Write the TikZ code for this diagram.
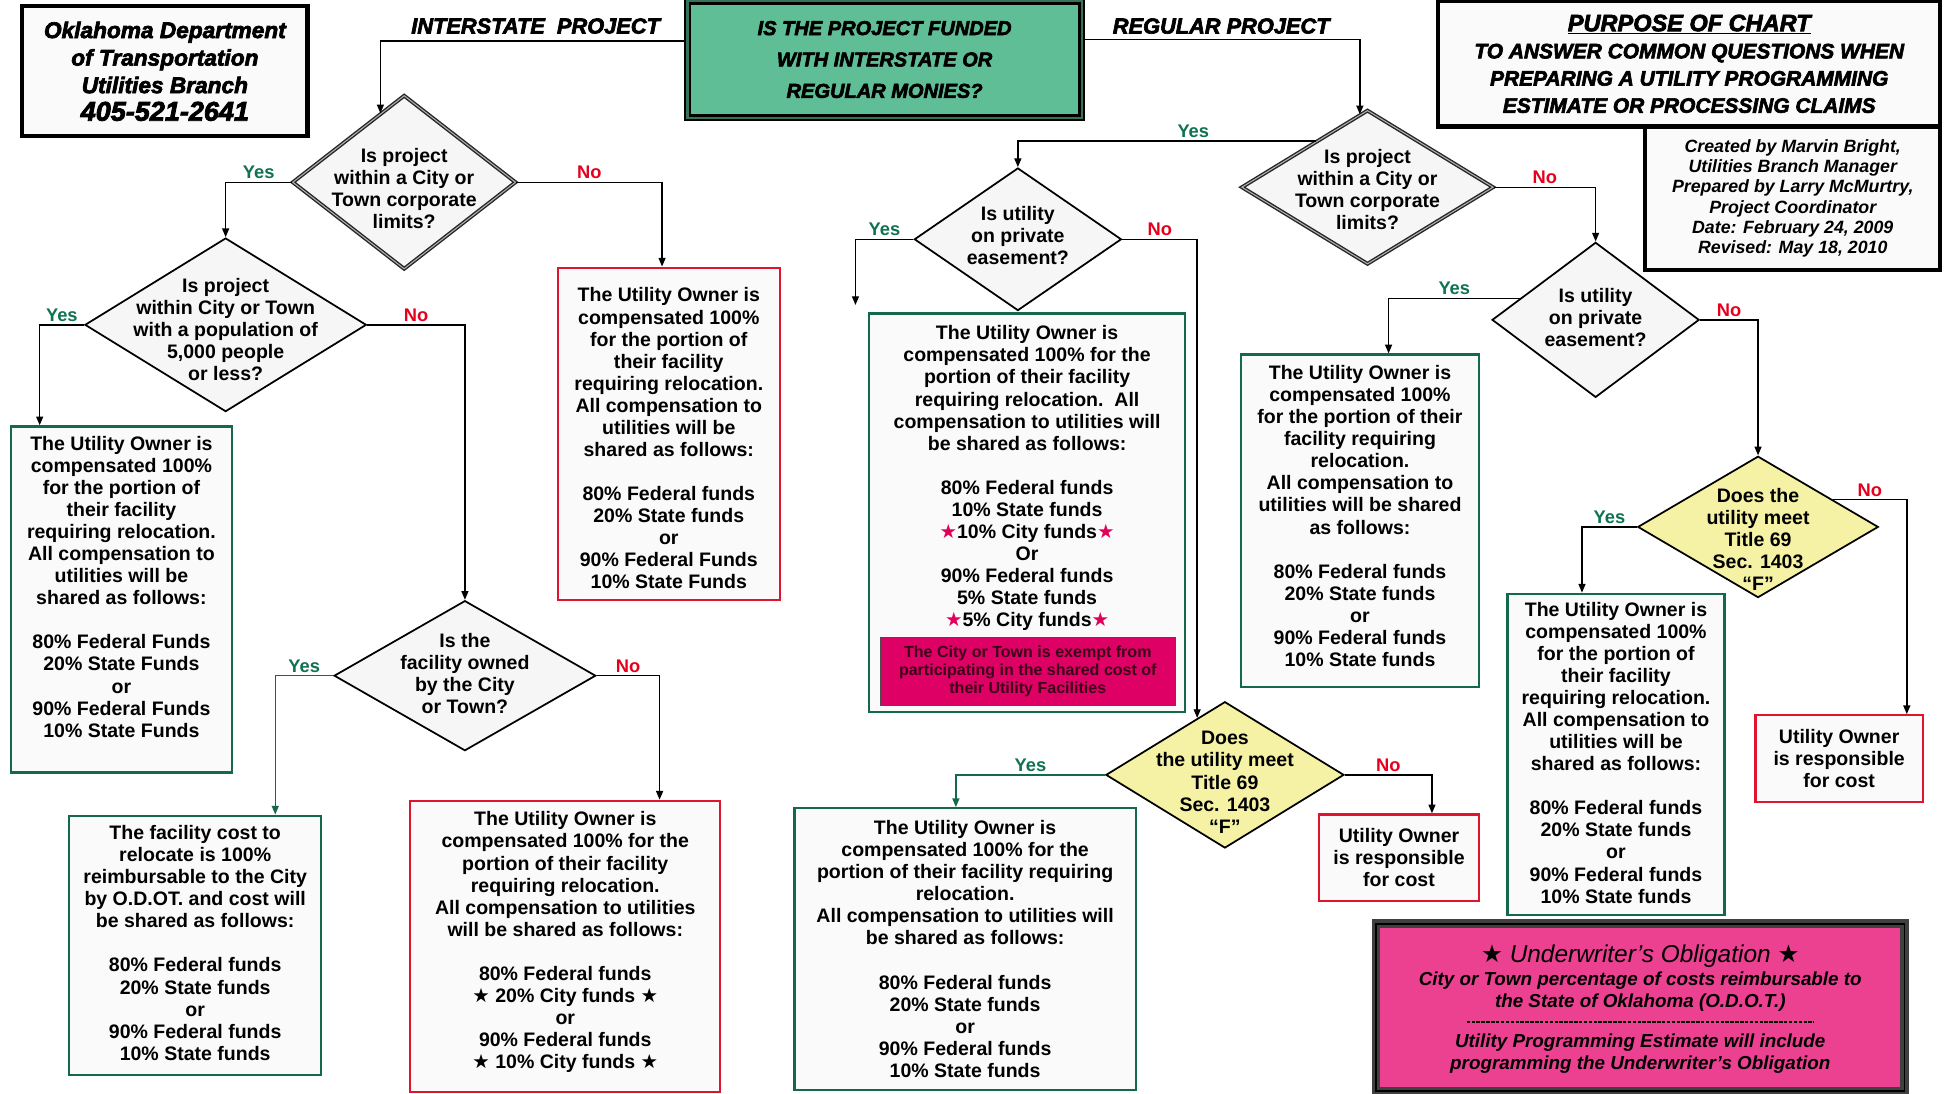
\documentclass[tikz,border=0pt]{standalone}
\usepackage{fontspec}
\setmainfont{Liberation Sans}
\newfontfamily\symfont{DejaVu Sans}
\newfontfamily\heavy[FakeBold=3]{Liberation Sans}
\usetikzlibrary{arrows.meta,shapes.geometric,positioning,calc}

\definecolor{boxgreen}{RGB}{20,105,75}
\definecolor{boxred}{RGB}{225,20,45}
\definecolor{yesgreen}{RGB}{15,115,80}
\definecolor{nored}{RGB}{230,0,30}
\definecolor{cfill}{RGB}{95,190,150}
\definecolor{yfill}{RGB}{245,242,165}
\definecolor{mfill}{RGB}{222,0,100}
\definecolor{ufill}{RGB}{236,64,145}
\definecolor{starred}{RGB}{225,0,90}
\definecolor{boxfill}{RGB}{250,250,250}
\definecolor{diafill}{RGB}{246,246,246}
\definecolor{mtext}{RGB}{60,0,25}

\newcommand{\rstar}{{\color{starred}\symfont ★}}
\newcommand{\kstar}{{\symfont ★}}

\begin{document}
\begin{tikzpicture}[x=0.025cm, y=-0.025cm,
    dia/.style={diamond, draw, line width=1pt, fill=diafill, inner sep=0pt},
    ddia/.style={dia, draw=black!85, double=black!30, double distance=0.6pt, line width=0.8pt},
    ydia/.style={dia, fill=yfill},
    gbox/.style={draw=boxgreen, line width=1.3pt, fill=boxfill, anchor=north west},
    rbox/.style={draw=boxred, line width=1.3pt, fill=boxfill, anchor=north west},
    tbox/.style={draw, line width=2.4pt, fill=boxfill, align=center, inner sep=0pt, font=\heavy\bfseries\itshape\fontsize{13}{15.8}\selectfont},
    btxt/.style={font=\bfseries\fontsize{11.2}{12.66}\selectfont, align=center, inner sep=0pt},
    hdr/.style={font=\heavy\bfseries\itshape\fontsize{12.5}{15}\selectfont, inner sep=0pt},
    arr/.style={-{Triangle[length=5pt,width=4pt]}, line width=0.8pt},
    garr/.style={arr, draw=boxgreen},
    yes/.style={font=\bfseries\fontsize{10.5}{12}\selectfont, text=yesgreen, above, inner sep=1.5pt},
    no/.style={yes, text=nored}
]
\fill[white] (0,0) rectangle (1568,882);
\useasboundingbox (0,0) rectangle (1568,882);

\node[tbox, minimum width=5.75cm, minimum height=2.625cm] (OD) at (133,57.5)
  {Oklahoma Department\\of Transportation\\Utilities Branch\\{\fontsize{15.5}{16}\selectfont 405-521-2641}};
\node[tbox, fill=cfill, line width=1.3pt, double=cfill!60!black, double distance=1.4pt,
  font=\heavy\bfseries\itshape\fontsize{11.5}{18}\selectfont, minimum width=7.95cm, minimum height=2.35cm] (C) at (713.5,48)
  {IS THE PROJECT FUNDED\\WITH INTERSTATE OR\\REGULAR MONIES?};
\node[tbox, font=\bfseries\itshape\fontsize{10.2}{11.6}\selectfont, minimum width=5.95cm, minimum height=2.9cm] (K) at (1446,160)
  {Created by Marvin Bright,\\Utilities Branch Manager\\Prepared by Larry McMurtry,\\Project Coordinator\\Date: February 24, 2009\\Revised: May 18, 2010};
\node[tbox, font=\heavy\bfseries\itshape\fontsize{12}{15.6}\selectfont, minimum width=10.125cm, minimum height=2.525cm] (P) at (1362.5,51.5)
  {{\fontsize{13.5}{15.6}\selectfont\underline{PURPOSE OF CHART}}\\TO ANSWER COMMON QUESTIONS WHEN\\PREPARING A UTILITY PROGRAMMING\\ESTIMATE OR PROCESSING CLAIMS};
\node[hdr] (IP) at (432,21) {INTERSTATE\ \ PROJECT};
\node[hdr] (RP) at (985,21) {REGULAR PROJECT};

\node[ddia, minimum width=4.5cm, minimum height=3.5cm] (D1) at (326,147) {};
\node[btxt] (D1t) at (326,152) {Is project\\within a City or\\Town corporate\\limits?};
\node[dia, minimum width=5.675cm, minimum height=3.5cm] (D2) at (182,262) {};
\node[btxt] (D2t) at (182,266) {Is project\\within City or Town\\with a population of\\5,000 people\\or less?};
\node[dia, minimum width=5.275cm, minimum height=3.025cm] (D3) at (375,545) {};
\node[btxt] (D3t) at (375,543) {Is the\\facility owned\\by the City\\or Town?};
\node[ddia, minimum width=5.075cm, minimum height=3.1cm] (D4) at (1103,151) {};
\node[btxt] (D4t) at (1103,153) {Is project\\within a City or\\Town corporate\\limits?};
\node[dia, minimum width=4.175cm, minimum height=2.875cm] (D5) at (821,193) {};
\node[btxt] (D5t) at (821,190) {Is utility\\on private\\easement?};
\node[ydia, minimum width=4.8cm, minimum height=2.95cm] (D6) at (988,625) {};
\node[btxt] (D6t) at (988,631) {Does\\the utility meet\\Title 69\\Sec. 1403\\“F”};
\node[dia, minimum width=4.175cm, minimum height=3.125cm] (D7) at (1287,258) {};
\node[btxt] (D7t) at (1287,256) {Is utility\\on private\\easement?};
\node[ydia, minimum width=4.85cm, minimum height=2.85cm] (D8) at (1418,425) {};
\node[btxt] (D8t) at (1418,435) {Does the\\utility meet\\Title 69\\Sec. 1403\\“F”};

\node[gbox, minimum width=4.45cm, minimum height=6.975cm] (G1) at (8,343) {};
\node[btxt, below=6pt of G1.north] (G1t) {The Utility Owner is\\compensated 100\%\\for the portion of\\their facility\\requiring relocation.\\All compensation to\\utilities will be\\shared as follows:\\[12.66pt]80\% Federal Funds\\20\% State Funds\\or\\90\% Federal Funds\\10\% State Funds};
\node[rbox, minimum width=4.475cm, minimum height=6.7cm] (R1) at (449,215) {};
\node[btxt, below=12pt of R1.north] (R1t) {The Utility Owner is\\compensated 100\%\\for the portion of\\their facility\\requiring relocation.\\All compensation to\\utilities will be\\shared as follows:\\[12.66pt]80\% Federal funds\\20\% State funds\\or\\90\% Federal Funds\\10\% State Funds};
\node[gbox, minimum width=5.075cm, minimum height=5.225cm] (G2) at (55,657) {};
\node[btxt, below=6pt of G2.north] (G2t) {The facility cost to\\relocate is 100\%\\reimbursable to the City\\by O.D.OT. and cost will\\be shared as follows:\\[12.66pt]80\% Federal funds\\20\% State funds\\or\\90\% Federal funds\\10\% State funds};
\node[rbox, minimum width=6.25cm, minimum height=5.875cm] (R2) at (330,645) {};
\node[btxt, below=6.7pt of R2.north] (R2t) {The Utility Owner is\\compensated 100\% for the\\portion of their facility\\requiring relocation.\\All compensation to utilities\\will be shared as follows:\\[12.66pt]80\% Federal funds\\\kstar{} 20\% City funds \kstar\\or\\90\% Federal funds\\\kstar{} 10\% City funds \kstar};
\node[gbox, minimum width=6.375cm, minimum height=8.025cm] (G3) at (700,252) {};
\node[btxt, below=7.4pt of G3.north] (G3t) {The Utility Owner is\\compensated 100\% for the\\portion of their facility\\requiring relocation.\ \ All\\compensation to utilities will\\be shared as follows:\\[12.66pt]80\% Federal funds\\10\% State funds\\\rstar10\% City funds\rstar\\Or\\90\% Federal funds\\5\% State funds\\\rstar5\% City funds\rstar};
\node[draw=black!70, line width=0.8pt, fill=mfill, text=mtext, align=center, inner sep=0pt,
  font=\bfseries\fontsize{9.2}{10.6}\selectfont, minimum width=5.95cm, minimum height=1.375cm] (M1) at (829,541.5)
  {The City or Town is exempt from\\participating in the shared cost of\\their Utility Facilities};
\node[gbox, minimum width=4.8cm, minimum height=6.7cm] (G4) at (1000,285) {};
\node[btxt, below=6.7pt of G4.north] (G4t) {The Utility Owner is\\compensated 100\%\\for the portion of their\\facility requiring\\relocation.\\All compensation to\\utilities will be shared\\as follows:\\[12.66pt]80\% Federal funds\\20\% State funds\\or\\90\% Federal funds\\10\% State funds};
\node[gbox, minimum width=6.875cm, minimum height=5.675cm] (G5) at (640,651) {};
\node[btxt, below=7.4pt of G5.north] (G5t) {The Utility Owner is\\compensated 100\% for the\\portion of their facility requiring\\relocation.\\All compensation to utilities will\\be shared as follows:\\[12.66pt]80\% Federal funds\\20\% State funds\\or\\90\% Federal funds\\10\% State funds};
\node[gbox, minimum width=4.375cm, minimum height=6.475cm] (G6) at (1215,478) {};
\node[btxt, below=5.2pt of G6.north] (G6t) {The Utility Owner is\\compensated 100\%\\for the portion of\\their facility\\requiring relocation.\\All compensation to\\utilities will be\\shared as follows:\\[12.66pt]80\% Federal funds\\20\% State funds\\or\\90\% Federal funds\\10\% State funds};
\node[rbox, btxt, minimum width=3.225cm, minimum height=1.75cm] (R3) at (1063,656) {Utility Owner\\is responsible\\for cost};
\node[rbox, btxt, minimum width=3.375cm, minimum height=1.75cm] (R4) at (1415,576) {Utility Owner\\is responsible\\for cost};

\node[draw=black!75, line width=2pt, double=black, double distance=1pt, fill=ufill, minimum width=10.65cm, minimum height=3.375cm] (U) at (1323,812.5) {};
\node[font=\bfseries\itshape\fontsize{10.8}{12.8}\selectfont, align=center, inner sep=0pt] (U1) at (1323,789)
  {{\fontsize{14}{16}\selectfont\mdseries\kstar{} Underwriter's Obligation \kstar}\\City or Town percentage of costs reimbursable to\\the State of Oklahoma (O.D.O.T.)};
\node[font=\bfseries\itshape\fontsize{10.8}{12.8}\selectfont, align=center, inner sep=0pt] (U2) at (1323,850)
  {Utility Programming Estimate will include\\programming the Underwriter's Obligation};
\draw[dash pattern=on 2pt off 0.8pt, line width=1.2pt] ($(U.center)+(-140,11.5)$) -- ($(U.center)+(140,11.5)$);

\coordinate (G3in) at (690,246);

\draw[arr] ($(C.west)+(0,-15)$) -| (D1.109);
\draw[arr] ($(C.east)+(0,-16)$) -| (D4.96);
\draw[arr] (D1.west) -| node[yes, pos=0.25] (y1) {Yes} (D2.north);
\draw[arr] (D1.east) -| node[no, pos=0.25] (n1) {No} ($(R1.north west)+(85,0)$);
\draw[arr] (D2.west) -| node[yes, pos=0.25] (y2) {Yes} ($(G1.north west)+(24,0)$);
\draw[arr] (D2.east) -| node[no, pos=0.25] (n2) {No} (D3.north);
\draw[garr] (D3.west) -| node[yes, pos=0.25] (y3) {Yes} ($(G2.north west)+(167,0)$);
\draw[arr] (D3.east) -| node[no, pos=0.25] (n3) {No} ($(R2.north west)+(202,0)$);
\draw[arr] (D4.138) -| node[yes, pos=0.206] (y4) {Yes} (D5.north);
\draw[arr] (D4.east) -| node[no, pos=0.25] (n4) {No} (D7.north);
\draw[arr] (D5.west) -| node[yes, pos=0.25] (y5) {Yes} (G3in);
\draw[arr] (D5.east) -| node[no, pos=0.25] (n5) {No} (D6.116);
\draw[garr] (D6.west) -| node[yes, pos=0.25] (y6) {Yes} ($(G5.north west)+(131,0)$);
\draw[arr] (D6.east) -| node[no, pos=0.25] (n6) {No} ($(R3.north west)+(92,0)$);
\draw[arr] (D7.164) -| node[yes, pos=0.25] (y7) {Yes} ($(G4.north west)+(120,0)$);
\draw[arr] (D7.east) -| node[no, pos=0.25] (n7) {No} (D8.north);
\draw[arr] (D8.west) -| node[yes, pos=0.25] (y8) {Yes} ($(G6.north west)+(61,0)$);
\draw[arr] (D8.20) -| node[no, pos=0.25] (n8) {No} ($(R4.north west)+(123,0)$);
\end{tikzpicture}
\end{document}
